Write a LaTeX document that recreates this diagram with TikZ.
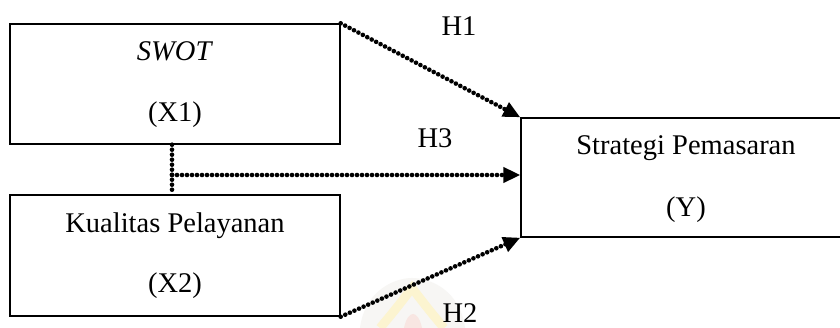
\documentclass[tikz,border=0pt]{standalone}
\usepackage{fontspec}
\setmainfont{Liberation Serif}
\usetikzlibrary{arrows.meta}
\definecolor{wmyellow}{RGB}{252,244,208}
\definecolor{wmpink}{RGB}{248,230,226}
\definecolor{wmgrey}{RGB}{247,246,244}
\begin{document}
\begin{tikzpicture}[x=1pt,y=-1pt,
  box/.style={draw, line width=1.4pt, inner sep=0pt},
  lbl/.style={anchor=base, inner sep=0pt, font=\fontsize{28.5}{34}\selectfont},
  dotline/.style={line width=4.6pt, line cap=round, dash pattern=on 0pt off 5pt},
  tip/.style={-{Triangle[length=17pt,width=15pt]}}]
\clip (0,0) rectangle (840,328);
\fill[white] (0,0) rectangle (840,328);
% faint logo print at the bottom
\fill[wmgrey] (360,328) .. controls (365,290) and (395,278) .. (412,278)
  .. controls (430,278) and (460,290) .. (465,328) -- cycle;
\draw[wmyellow, line width=9pt] (380,328) .. controls (395,310) .. (412,288)
  .. controls (429,310) .. (444,328);
\fill[wmpink] (404,328) .. controls (406,318) and (410,314) .. (413,314)
  .. controls (416,314) and (420,318) .. (422,328) -- cycle;
% boxes
\node[box, minimum width=330pt, minimum height=120pt] (x1) at (175,84) {};
\node[box, minimum width=330pt, minimum height=121pt] (x2) at (175,255.5) {};
\node[box, minimum width=330pt, minimum height=119pt] (y) at (686,177.5) {};
% box texts
\node[lbl] (t1a) at (175,61) {\textit{SWOT}};
\node[lbl] (t1b) at (175,122) {(X1)};
\node[lbl] (t2a) at (175,233) {Kualitas Pelayanan};
\node[lbl] (t2b) at (175,293) {(X2)};
\node[lbl] (tya) at (686,155) {Strategi Pemasaran};
\node[lbl] (tyb) at (686,217) {(Y)};
% hypothesis labels
\node[lbl] (h1) at (459,36) {H1};
\node[lbl] (h3) at (435,148) {H3};
\node[lbl] (h2) at (460,323) {H2};
% connectors
\coordinate (j) at (172,175);
\draw[dotline, tip] (x1.north east) -- (y.north west);
\draw[dotline, tip] (x2.south east) -- (y.south west);
\draw[dotline] (x1.south -| j) -- (x2.north -| j);
\draw[dotline, tip] (j) -- (j -| y.west);
\end{tikzpicture}
\end{document}
